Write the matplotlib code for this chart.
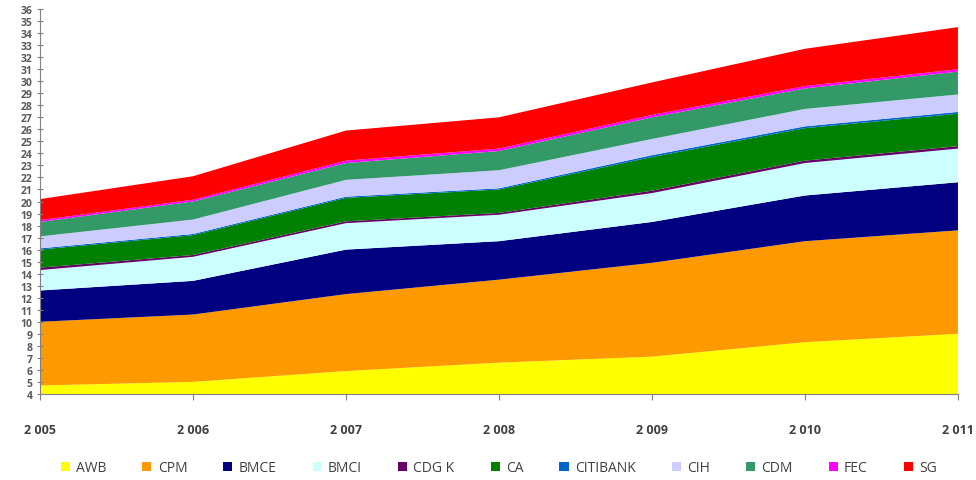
import matplotlib.pyplot as plt
import numpy as np

years = [2005, 2006, 2007, 2008, 2009, 2010, 2011]
year_labels = ["2 005", "2 006", "2 007", "2 008", "2 009", "2 010", "2 011"]

banks = ["AWB", "CPM", "BMCE", "BMCI", "CDG K", "CA", "CITIBANK", "CIH", "CDM", "FEC", "SG"]

awb = [4.7, 5.0, 5.9, 6.6, 7.1, 8.3, 9.0]
cpm = [5.3, 5.6, 6.4, 6.9, 7.8, 8.4, 8.6]
bmce = [2.6, 2.8, 3.7, 3.2, 3.4, 3.8, 4.0]
bmci = [1.7, 2.0, 2.2, 2.2, 2.4, 2.7, 2.8]
cdgk = [0.2, 0.15, 0.15, 0.15, 0.2, 0.2, 0.2]
ca = [1.5, 1.65, 1.95, 1.95, 2.8, 2.7, 2.7]
citibank = [0.1, 0.1, 0.1, 0.1, 0.15, 0.15, 0.15]
cih = [1.0, 1.2, 1.4, 1.5, 1.35, 1.45, 1.45]
cdm = [1.2, 1.5, 1.4, 1.6, 1.8, 1.7, 1.9]
fec = [0.15, 0.15, 0.2, 0.2, 0.2, 0.2, 0.2]
sg = [1.75, 1.95, 2.5, 2.6, 2.7, 3.1, 3.5]

colors = ["#FFFF00", "#FF9900", "#000080", "#CCFFFF", "#660066", "#008000",
          "#0066CC", "#CCCCFF", "#339966", "#FF00FF", "#FF0000"]

plt.rcParams['font.family'] = ['Open Sans', 'DejaVu Sans']
txt = "#404040"

fig = plt.figure(figsize=(9.76, 4.81), dpi=100)
ax = fig.add_axes([0.041, 0.179, 0.9405, 0.8])

ax.stackplot(years, awb, cpm, bmce, bmci, cdgk, ca, citibank, cih, cdm, fec, sg,
             colors=colors, labels=banks, linewidth=0)

ax.set_xlim(2005, 2011)
ax.set_ylim(4, 36)
ax.set_yticks(np.arange(4, 37, 1))
ax.set_xticks(years)
ax.set_xticklabels(year_labels)

for s in ["top", "right"]:
    ax.spines[s].set_visible(False)
ax.spines["left"].set_color("#808080")
ax.spines["bottom"].set_color("#808080")

ax.tick_params(axis="y", direction="inout", length=5, color="#808080",
               labelsize=7.5, labelcolor="#595959", pad=3)
ax.tick_params(axis="x", direction="out", length=4, color="#808080",
               labelsize=9, labelcolor=txt, pad=17)
for lab in ax.get_yticklabels() + ax.get_xticklabels():
    lab.set_fontweight("bold")

fig.legend(loc="lower center", bbox_to_anchor=(0.511, -0.016), ncol=11, frameon=False,
           fontsize=10, labelcolor=txt, handlelength=0.65, handleheight=0.65,
           handletextpad=0.45, columnspacing=2.6)

fig.savefig("out.png", dpi=100)
